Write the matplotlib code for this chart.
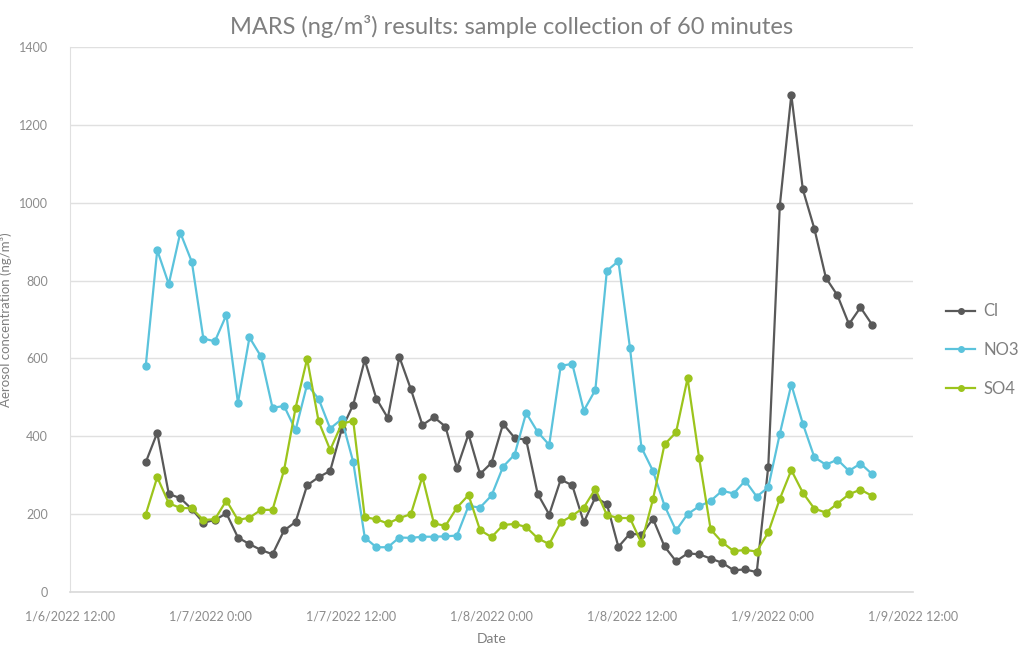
import matplotlib
matplotlib.use("Agg")
import matplotlib.pyplot as plt
import matplotlib.dates as mdates
import pandas as pd
from matplotlib import font_manager

# ---- data ----
start_time = "2022-01-06 18:28"
end_time = "2022-01-09 08:30"
n_points = 64

cl = [333, 409, 252, 241, 213, 178, 185, 202, 140, 123, 108, 97, 158, 180, 274, 295,
      311, 418, 481, 596, 497, 447, 604, 521, 429, 449, 425, 318, 405, 303, 332, 432,
      396, 391, 252, 199, 289, 274, 179, 243, 226, 116, 150, 147, 188, 117, 79, 99,
      97, 86, 75, 56, 58, 51, 322, 992, 1277, 1034, 933, 807, 762, 688, 731, 687]
no3 = [580, 878, 791, 923, 848, 651, 644, 712, 486, 654, 605, 473, 478, 416, 533, 496,
       420, 444, 334, 140, 115, 115, 140, 139, 142, 142, 143, 145, 221, 217, 248, 322,
       353, 460, 411, 378, 581, 586, 466, 519, 825, 850, 628, 371, 311, 222, 158, 200,
       220, 234, 260, 253, 286, 245, 269, 406, 533, 432, 346, 327, 340, 311, 330, 303]
so4 = [199, 295, 228, 216, 215, 185, 187, 235, 185, 191, 211, 211, 313, 473, 599, 438,
       365, 432, 440, 192, 187, 176, 190, 200, 296, 176, 170, 217, 249, 159, 141, 172,
       175, 167, 138, 123, 179, 196, 217, 265, 198, 190, 190, 126, 238, 379, 410, 549,
       345, 161, 128, 105, 108, 104, 153, 239, 313, 255, 214, 204, 227, 251, 263, 247]

series_names = ["Cl", "NO3", "SO4"]
series_colors = ["#595959", "#5bc3dc", "#9cc41c"]

times = pd.date_range(start_time, end_time, periods=n_points)

# ---- fonts ----
avail = {f.name for f in font_manager.fontManager.ttflist}
fam = [f for f in ["Liberation Sans Narrow", "Lato", "Open Sans", "DejaVu Sans"] if f in avail]
plt.rcParams["font.family"] = fam

fig = plt.figure(figsize=(10.24, 6.51), dpi=100)
ax_w = 913 - 70
ax_h = 592 - 47
ax = fig.add_axes([70 / 1024, 1 - 592 / 651, ax_w / 1024, ax_h / 651])

for name, vals, col in zip(series_names, [cl, no3, so4], series_colors):
    ax.plot(times, vals, color=col, lw=1.6, marker="o", ms=5, label=name,
            solid_joinstyle="round")

ax.set_xlim(pd.Timestamp("2022-01-06 12:00"), pd.Timestamp("2022-01-09 12:00"))
ax.set_ylim(0, 1400)
ax.set_yticks(range(0, 1401, 200))
ax.xaxis.set_major_locator(mdates.HourLocator(byhour=[0, 12]))


def fmt(x, pos=None):
    d = mdates.num2date(x)
    return f"{d.month}/{d.day}/{d.year} {d.hour}:{d.minute:02d}"


ax.xaxis.set_major_formatter(plt.FuncFormatter(fmt))

ax.grid(axis="y", color="#e0e0e0", lw=1)
ax.set_axisbelow(True)
for s in ["top", "right"]:
    ax.spines[s].set_visible(False)
ax.spines["left"].set_color("#e0e0e0")
ax.spines["bottom"].set_color("#d9d9d9")
ax.spines["bottom"].set_linewidth(1.2)
ax.tick_params(axis="both", length=0, colors="#8c8c8c", labelsize=9)
ax.tick_params(axis="x", pad=13)
ax.tick_params(axis="y", pad=16)

ax.set_xlabel("Date", color="#7f7f7f", fontsize=10, labelpad=8)
ax.set_ylabel("Aerosol concentration (ng/m³)", color="#7f7f7f", fontsize=9.5)
ax.yaxis.set_label_coords((12 - 70) / ax_w, 0.5)
fig.text(0.5, 1 - 27 / 651, "MARS (ng/m³) results: sample collection of 60 minutes",
         ha="center", va="center", fontsize=17, color="#7f7f7f")

leg = ax.legend(loc="center left", bbox_to_anchor=((946 - 70) / ax_w, (592 - 350) / ax_h),
                frameon=False, borderpad=0, borderaxespad=0,
                fontsize=12, labelcolor="#7f7f7f", handlelength=1.75,
                labelspacing=1.35, handletextpad=0.5)
for h in leg.legend_handles:
    h.set_markersize(4)

fig.savefig("out.png", dpi=100)
